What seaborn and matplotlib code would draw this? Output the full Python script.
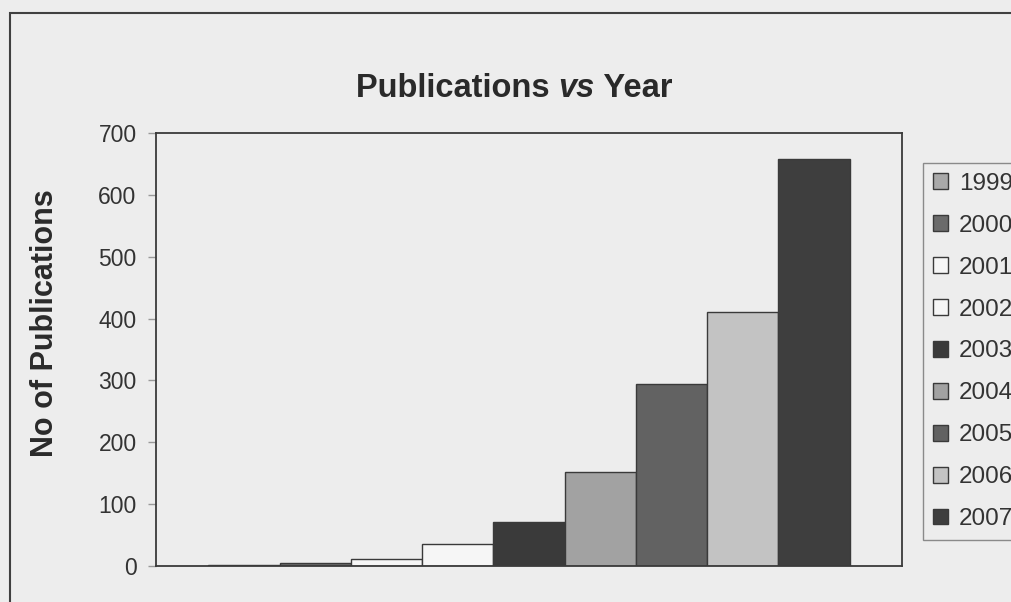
import pandas as pd
import seaborn as sns
import matplotlib.pyplot as plt
from matplotlib.patches import Rectangle

# DADOS
anos = ['1999', '2000', '2001', '2002', '2003', '2004', '2005', '2006', '2007']
publicacoes = [1, 5, 11, 36, 71, 152, 294, 410, 658]
cores = ['#a9a9a9', '#6b6b6b', '#f6f6f6', '#f6f6f6', '#3a3a3a',
         '#a2a2a2', '#626262', '#c3c3c3', '#3e3e3e']
y_ticks = [0, 100, 200, 300, 400, 500, 600, 700]

df = pd.DataFrame({'grupo': [''] * len(anos), 'ano': anos, 'pubs': publicacoes})

sns.set_theme(style="white")
plt.rcParams['font.family'] = ['Liberation Sans', 'DejaVu Sans']

fundo = '#ededed'
W, H = 1012, 602
fig = plt.figure(figsize=(W / 100, H / 100), dpi=100, facecolor=fundo)
ax = fig.add_axes([156 / W, 1 - 566 / H, 746 / W, 433 / H], facecolor=fundo)

sns.barplot(data=df, x='grupo', y='pubs', hue='ano', hue_order=anos,
            palette=dict(zip(anos, cores)), width=0.86, gap=0,
            edgecolor='#3a3a3a', linewidth=1, saturation=1, ax=ax)

ax.set_ylim(0, 700)
ax.set_xlim(-0.5, 0.5)
ax.set_yticks(y_ticks)
ax.set_xticks([])
ax.set_xlabel('')
ax.set_ylabel('')
ax.tick_params(axis='y', left=True, length=6, width=1, color='#999999',
               pad=8, labelsize=16.5, labelcolor='#333333')
for s in ax.spines.values():
    s.set_visible(True)
    s.set_color('#3a3a3a')
    s.set_linewidth(1.3)

# legenda à direita (cortada na borda, como no original)
handles, labels = ax.get_legend_handles_labels()
ax.legend(handles, labels, loc='upper left', bbox_to_anchor=(923 / W, 1 - 163 / H),
          bbox_transform=fig.transFigure, borderaxespad=0, fontsize=17.5,
          handlelength=0.62, handleheight=0.62, handletextpad=0.45,
          labelspacing=0.82, borderpad=0.4, frameon=True, fancybox=False,
          edgecolor='#8a8a8a', facecolor=fundo, framealpha=1)
leg = ax.get_legend()
leg.get_frame().set_linewidth(1)
for t in leg.get_texts():
    t.set_color('#333333')

# título com "vs" em itálico
t1 = fig.text(356 / W, 1 - 97 / H, 'Publications ', fontsize=23.5, fontweight='bold',
              color='#2a2a2a', va='baseline', ha='left')
t2 = fig.text(0, 0, 'vs', fontsize=23.5, fontweight='bold', fontstyle='italic',
              color='#2a2a2a', va='baseline', ha='left')
t3 = fig.text(0, 0, ' Year', fontsize=23.5, fontweight='bold',
              color='#2a2a2a', va='baseline', ha='left')
fig.canvas.draw()
r = fig.canvas.get_renderer()
x = t1.get_window_extent(r).x1
t2.set_position((x / W, 1 - 97 / H))
x = t2.get_window_extent(r).x1
t3.set_position((x / W, 1 - 97 / H))

fig.text(45 / W, 1 - 323 / H, 'No of Publications', rotation=90, fontsize=22,
         fontweight='bold', color='#2a2a2a', ha='center', va='center')

# moldura externa do gráfico
fig.add_artist(Rectangle((10 / W, -0.1), 1.2, 1.1 - 13 / H, transform=fig.transFigure,
                         fill=False, edgecolor='#404040', linewidth=1.5))

fig.savefig('out.png', dpi=100, facecolor=fundo)
